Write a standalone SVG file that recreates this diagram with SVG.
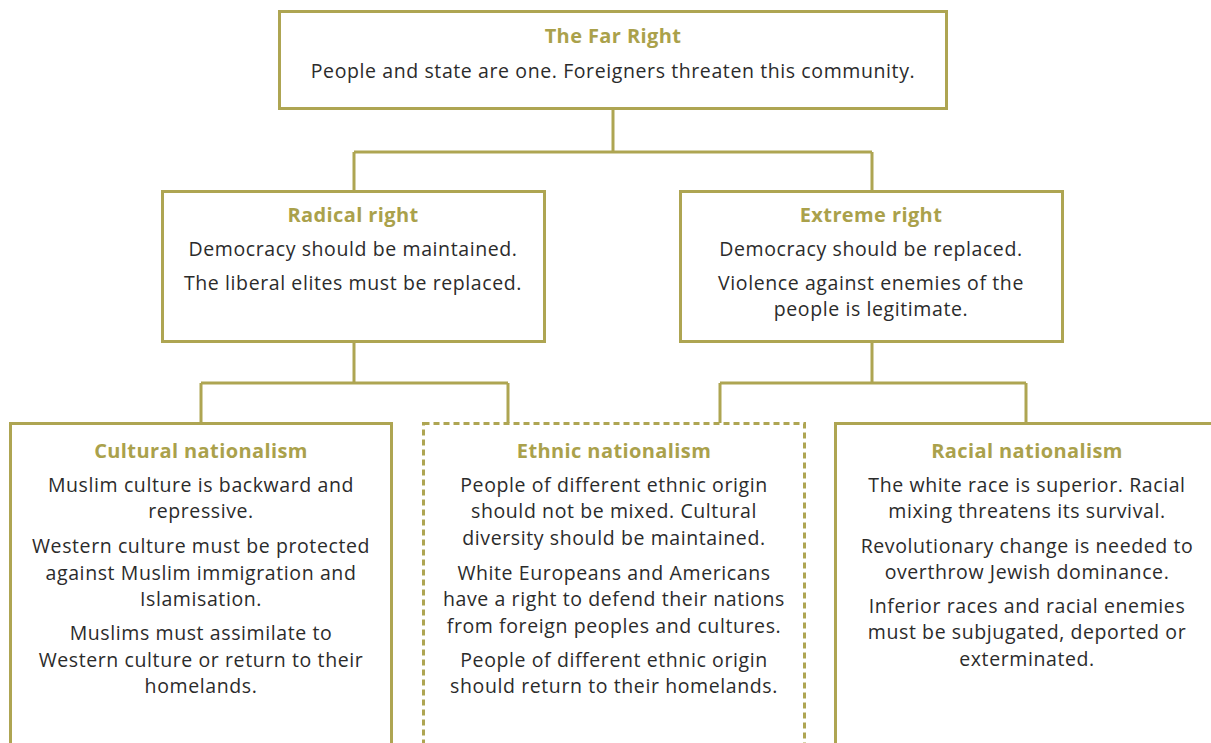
<svg xmlns="http://www.w3.org/2000/svg" width="1211" height="743" viewBox="0 0 1211 743">
<style>
.box{fill:#fff;stroke:#aea552;stroke-width:3}
.dash{stroke-dasharray:6 4}
.conn{fill:none;stroke:#aea552;stroke-width:3}
.t{font-family:"Open Sans","Liberation Sans",sans-serif;font-weight:700;font-size:20px;letter-spacing:0.4px;fill:#aaa14b;text-anchor:middle}
.b{font-family:"Open Sans","Liberation Sans",sans-serif;font-size:19.5px;letter-spacing:0.6px;fill:#2b2b2b;text-anchor:middle}
</style>
<rect width="1211" height="743" fill="#fff"/>
<g id="connectors">
<path class="conn" d="M613 108V152M354 152H872M354 152V192M872 152V192"/>
<path class="conn" d="M354 341V383M201 383H508M201 383V423M508 383V423"/>
<path class="conn" d="M872 341V383M720 383H1026M720 383V423M1026 383V423"/>
</g>
<g id="far-right">
<rect class="box" x="279.5" y="11.5" width="667" height="97"/>
<text class="t" x="613" y="43">The Far Right</text>
<text class="b" x="613" y="78">People and state are one. Foreigners threaten this community.</text>
</g>
<g id="radical-right">
<rect class="box" x="162.5" y="191.5" width="382" height="150"/>
<text class="t" x="353" y="222">Radical right</text>
<text class="b" x="353" y="256">Democracy should be maintained.</text>
<text class="b" x="353" y="290">The liberal elites must be replaced.</text>
</g>
<g id="extreme-right">
<rect class="box" x="680.5" y="191.5" width="382" height="150"/>
<text class="t" x="871" y="222">Extreme right</text>
<text class="b" x="871" y="256">Democracy should be replaced.</text>
<text class="b" x="871" y="290">Violence against enemies of the</text>
<text class="b" x="871" y="316">people is legitimate.</text>
</g>
<g id="cultural-nationalism">
<rect class="box" x="10.5" y="423.5" width="381" height="340"/>
<text class="t" x="201" y="458">Cultural nationalism</text>
<text class="b" x="201" y="492">Muslim culture is backward and</text>
<text class="b" x="201" y="518">repressive.</text>
<text class="b" x="201" y="553">Western culture must be protected</text>
<text class="b" x="201" y="580">against Muslim immigration and</text>
<text class="b" x="201" y="606">Islamisation.</text>
<text class="b" x="201" y="640">Muslims must assimilate to</text>
<text class="b" x="201" y="667">Western culture or return to their</text>
<text class="b" x="201" y="693">homelands.</text>
</g>
<g id="ethnic-nationalism">
<rect class="box dash" x="423.5" y="423.5" width="381" height="340"/>
<text class="t" x="614" y="458">Ethnic nationalism</text>
<text class="b" x="614" y="492">People of different ethnic origin</text>
<text class="b" x="614" y="518">should not be mixed. Cultural</text>
<text class="b" x="614" y="545">diversity should be maintained.</text>
<text class="b" x="614" y="580">White Europeans and Americans</text>
<text class="b" x="614" y="606">have a right to defend their nations</text>
<text class="b" x="614" y="633">from foreign peoples and cultures.</text>
<text class="b" x="614" y="667">People of different ethnic origin</text>
<text class="b" x="614" y="693">should return to their homelands.</text>
</g>
<g id="racial-nationalism">
<rect class="box" x="835.5" y="423.5" width="400" height="340"/>
<text class="t" x="1027" y="458">Racial nationalism</text>
<text class="b" x="1027" y="492">The white race is superior. Racial</text>
<text class="b" x="1027" y="518">mixing threatens its survival.</text>
<text class="b" x="1027" y="553">Revolutionary change is needed to</text>
<text class="b" x="1027" y="579">overthrow Jewish dominance.</text>
<text class="b" x="1027" y="613">Inferior races and racial enemies</text>
<text class="b" x="1027" y="639">must be subjugated, deported or</text>
<text class="b" x="1027" y="666">exterminated.</text>
</g>
</svg>
